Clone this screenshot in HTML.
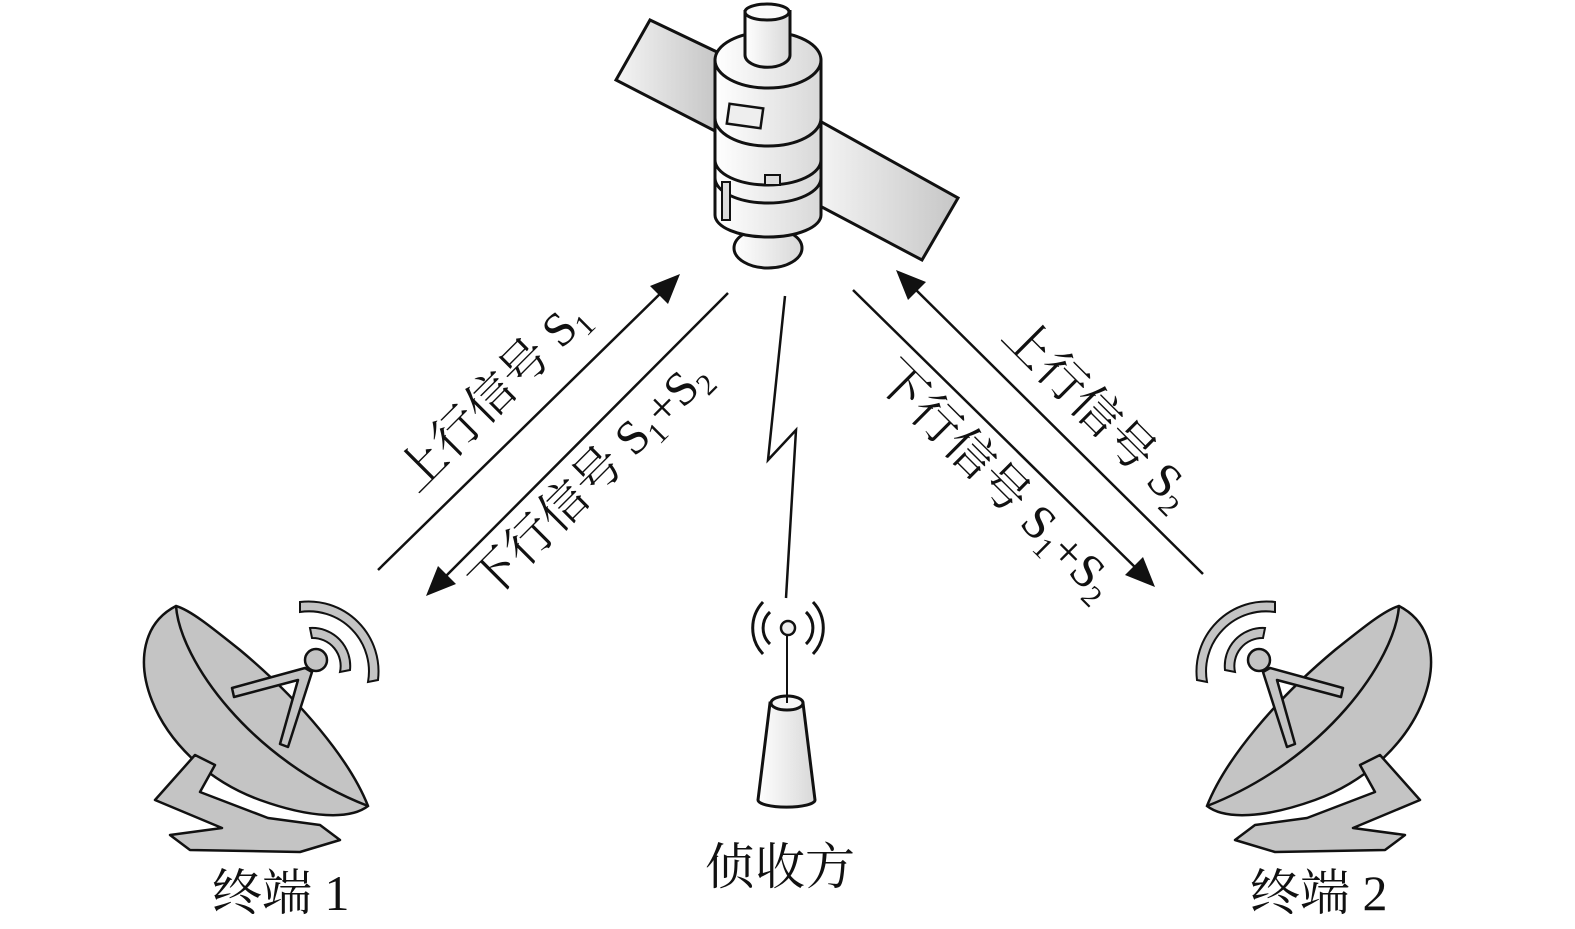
<!DOCTYPE html>
<html><head><meta charset="utf-8"><style>
html,body{margin:0;padding:0;background:#fff}
svg{display:block}
text{font-family:"Liberation Serif","Noto Serif CJK SC",serif;fill:#111}
</style></head><body>
<svg width="1575" height="929" viewBox="0 0 1575 929" xmlns="http://www.w3.org/2000/svg">
<defs>
<linearGradient id="g1" x1="0" x2="1"><stop offset="0" stop-color="#fff"/><stop offset="1" stop-color="#d8d8d8"/></linearGradient>
<linearGradient id="g2" x1="0" x2="1"><stop offset="0" stop-color="#f4f4f4"/><stop offset="1" stop-color="#c6c6c6"/></linearGradient>
<g id="dish">
  <path d="M176,606 C110,640 150,760 260,800 C310,818 350,820 368,806 C350,760 300,700 240,650 C210,626 190,610 176,606 Z" fill="#c4c4c4" stroke="#111" stroke-width="2.5"/>
  <path d="M176,606 C180,660 250,760 368,806" fill="none" stroke="#111" stroke-width="2.5"/>
  <path d="M232,688 L305,668 L312,672 L288,747 L280,744 L298,680 L234,697 Z" fill="#c4c4c4" stroke="#111" stroke-width="2.5" stroke-linejoin="round"/>
  <circle cx="316" cy="660" r="11" fill="#c4c4c4" stroke="#111" stroke-width="2.5"/>
  <path d="M310,628 A38,38 0 0 1 350,670 L340,672 A28,28 0 0 0 312,638 Z" fill="#c4c4c4" stroke="#111" stroke-width="2"/>
  <path d="M300,602 A70,70 0 0 1 378,680 L368,682 A60,60 0 0 0 300,612 Z" fill="#c4c4c4" stroke="#111" stroke-width="2"/>
  <path d="M195,755 L155,800 L222,828 L170,835 L190,850 L300,852 L340,840 L320,825 L268,818 L200,792 L215,765 Z" fill="#c4c4c4" stroke="#111" stroke-width="2.5" stroke-linejoin="round"/>
</g>
</defs>

<polygon points="650,20 717,52 717,132 616,80" fill="url(#g2)" stroke="#111" stroke-width="3"/>
<polygon points="818,120 958,198 922,260 818,205" fill="url(#g2)" stroke="#111" stroke-width="3"/>
<ellipse cx="768" cy="248" rx="34" ry="20" fill="url(#g1)" stroke="#111" stroke-width="3"/>
<path d="M715,60 L715,215 A53,22 0 0 0 821,215 L821,60 Z" fill="url(#g1)" stroke="#111" stroke-width="3"/>
<ellipse cx="768" cy="60" rx="53" ry="28" fill="url(#g1)" stroke="#111" stroke-width="3"/>
<path d="M715,118 A53,28 0 0 0 821,118" fill="none" stroke="#111" stroke-width="3"/>
<path d="M715,160 A53,25 0 0 0 821,160" fill="none" stroke="#111" stroke-width="3"/>
<path d="M715,178 A53,25 0 0 0 821,178" fill="none" stroke="#111" stroke-width="3"/>
<rect x="728" y="106" width="34" height="20" fill="#eee" stroke="#111" stroke-width="2.5" transform="rotate(8 745 116)"/>
<rect x="765" y="175" width="15" height="10" fill="#ddd" stroke="#111" stroke-width="2"/>
<rect x="722" y="182" width="8" height="38" fill="#ddd" stroke="#111" stroke-width="2"/>
<path d="M745,10 L745,55 A22,12 0 0 0 790,55 L790,10" fill="url(#g1)" stroke="#111" stroke-width="3"/>
<ellipse cx="767" cy="12" rx="22" ry="8" fill="#fafafa" stroke="#111" stroke-width="3"/>

<g stroke="#111" stroke-width="2.5">
<line x1="378" y1="570" x2="668" y2="286"/>
<line x1="728" y1="293" x2="438" y2="584"/>
<line x1="1203" y1="574" x2="908" y2="282"/>
<line x1="853" y1="290" x2="1143" y2="575"/>
</g>
<g fill="#111">
<polygon points="680,274 650,286 668,304"/>
<polygon points="426,596 456,584 438,566"/>
<polygon points="896,270 926,282 908,300"/>
<polygon points="1155,587 1143,557 1125,575"/>
</g>

<polyline points="785,296 768,460 796,430 786,598" fill="none" stroke="#111" stroke-width="2.5"/>

<path d="M770,703 L758,800 A28,7 0 0 0 815,800 L803,703 Z" fill="url(#g1)" stroke="#111" stroke-width="3"/>
<ellipse cx="787" cy="703" rx="16" ry="7" fill="#f6f6f6" stroke="#111" stroke-width="3"/>
<line x1="787" y1="636" x2="787" y2="703" stroke="#111" stroke-width="2"/>
<circle cx="788" cy="628" r="7" fill="#eee" stroke="#111" stroke-width="2.5"/>
<g fill="none" stroke="#111" stroke-width="3">
<path d="M770,612 A22,22 0 0 0 770,644"/>
<path d="M806,612 A22,22 0 0 1 806,644"/>
<path d="M763,602 A38,38 0 0 0 763,654"/>
<path d="M813,602 A38,38 0 0 1 813,654"/>
</g>

<use href="#dish"/>
<use href="#dish" transform="translate(1575,0) scale(-1,1)"/>

<g font-size="48">
<text transform="translate(417,494) rotate(-45)">上行信号 S<tspan font-size="30" dy="9">1</tspan></text>
<text transform="translate(490,602) rotate(-45)">下行信号 S<tspan font-size="30" dy="9">1</tspan><tspan dy="-9">+S</tspan><tspan font-size="30" dy="9">2</tspan></text>
<text transform="translate(1000,338) rotate(45)">上行信号 S<tspan font-size="30" dy="9">2</tspan></text>
<text transform="translate(874,380) rotate(45)">下行信号 S<tspan font-size="30" dy="9">1</tspan><tspan dy="-9">+S</tspan><tspan font-size="30" dy="9">2</tspan></text>
</g>
<g font-size="50">
<text x="212" y="910">终端 1</text>
<text x="705" y="884">侦收方</text>
<text x="1250" y="910">终端 2</text>
</g>
</svg>
</body></html>
